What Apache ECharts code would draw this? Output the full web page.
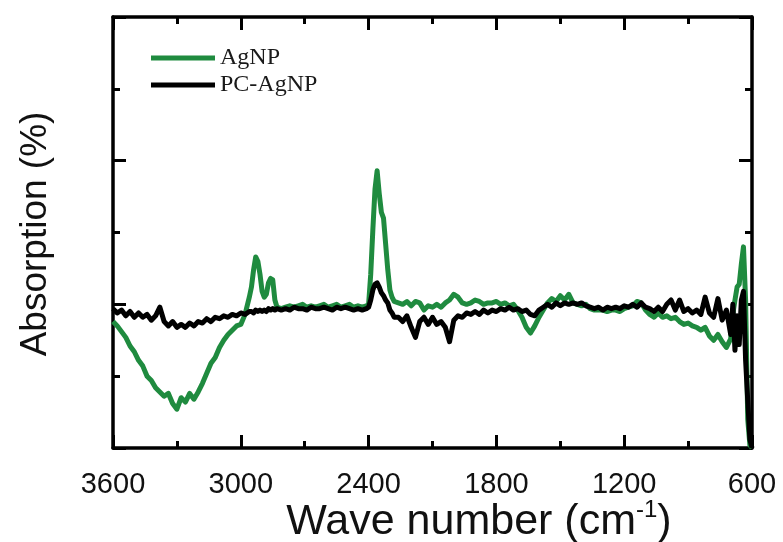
<!DOCTYPE html>
<html>
<head>
<meta charset="utf-8">
<script src="https://cdn.jsdelivr.net/npm/echarts@6/dist/echarts.min.js"></script>
<style>
html,body{margin:0;padding:0;background:#fff;}
#chart{width:783px;height:542px;}
</style>
</head>
<body>
<div id="chart"></div>
<script>
// Wave numbers (cm^-1), shared by both spectra
var wavenumbers = [
  3600,3580,3560,3540,3520,3500,3480,3460,3440,3420,3400,3380,3360,3340,3320,3300,3280,3260,3240,3220,3200,3180,3160,3140,3120,3100,3080,3060,3040,3020,3000,2980,2960,
  2950,2940,2930,2920,2910,2900,2890,2880,2870,2860,2850,2840,2830,
  2810,2790,2770,2750,2730,2710,2690,2670,2650,2630,2610,2590,2570,2550,2530,2510,2490,2470,2450,2430,2410,
  2400,2390,2380,2370,2360,2350,2340,2330,2320,2310,2300,2290,2280,
  2260,2240,2220,2200,2180,2160,2140,2120,2100,2080,2060,2040,2020,2000,1980,1960,1940,1920,1900,1880,
  1860,1840,1820,1800,1780,1760,1740,1720,1700,1680,1660,1640,1620,1600,1580,1560,1540,1520,1500,1480,
  1460,1440,1420,1400,1380,1360,1340,1320,1300,1280,1260,1240,1220,1200,1180,1160,1140,1120,1100,1080,
  1060,1040,1020,1000,980,960,940,920,900,880,860,840,820,800,780,760,740,720,700,
  690,680,670,660,650,640,630,620,610,600
];

// AgNP absorption (arbitrary units)
var agnp = [
  0.88,0.85,0.81,0.77,0.71,0.67,0.61,0.57,0.50,0.47,0.42,0.39,0.36,0.38,0.31,0.27,0.35,0.32,0.38,0.34,0.39,0.45,0.52,0.59,0.63,0.70,0.75,0.79,0.82,0.85,0.86,0.93,1.05,
  1.12,1.24,1.33,1.30,1.21,1.09,1.05,1.07,1.15,1.18,1.17,1.03,0.98,
  0.97,0.98,0.99,0.98,0.99,1.00,0.98,0.99,0.98,0.99,1.00,0.98,0.99,1.00,0.98,0.99,1.00,0.98,0.99,0.98,0.99,
  1.00,1.21,1.52,1.80,1.93,1.77,1.64,1.60,1.42,1.24,1.10,1.05,1.02,
  1.01,1.00,1.02,0.99,1.02,1.01,0.96,0.99,0.98,1.00,0.98,1.01,1.03,1.07,1.05,1.01,1.00,1.01,1.03,1.02,
  1.00,1.01,1.01,1.02,1.00,1.01,0.99,1.00,0.96,0.91,0.84,0.80,0.85,0.91,0.96,1.01,1.04,1.02,1.06,1.03,
  1.07,1.01,1.00,0.99,1.00,0.97,0.96,0.96,0.96,0.95,0.96,0.96,0.95,0.97,0.98,0.99,1.02,1.01,0.96,0.93,
  0.91,0.94,0.91,0.92,0.90,0.91,0.88,0.86,0.87,0.85,0.84,0.82,0.84,0.78,0.75,0.79,0.74,0.70,0.76,
  0.93,1.03,1.12,1.14,1.28,1.40,1.03,0.20,0.02,0.00
];

// PC-AgNP absorption (arbitrary units)
var pcAgnp = [
  0.97,0.94,0.96,0.92,0.95,0.91,0.94,0.91,0.93,0.89,0.92,0.98,0.88,0.85,0.88,0.84,0.86,0.84,0.87,0.85,0.88,0.87,0.90,0.88,0.91,0.90,0.92,0.91,0.93,0.92,0.94,0.93,0.95,
  0.95,0.94,0.96,0.95,0.96,0.95,0.96,0.95,0.97,0.96,0.97,0.96,0.97,
  0.96,0.97,0.96,0.98,0.97,0.97,0.96,0.98,0.97,0.97,0.98,0.97,0.96,0.98,0.97,0.98,0.97,0.96,0.97,0.96,0.97,
  0.98,1.03,1.10,1.14,1.15,1.12,1.08,1.06,1.03,1.01,0.96,0.94,0.91,
  0.91,0.88,0.92,0.84,0.77,0.88,0.91,0.86,0.91,0.86,0.88,0.84,0.74,0.89,0.92,0.91,0.94,0.93,0.95,0.93,
  0.96,0.94,0.96,0.95,0.97,0.96,0.98,0.96,0.97,0.95,0.96,0.93,0.92,0.96,0.98,1.00,0.98,1.01,0.99,1.01,
  1.00,1.01,1.00,1.01,0.99,0.98,0.97,0.98,0.96,0.98,0.97,0.98,0.97,0.99,0.98,1.00,0.98,1.01,0.98,0.97,
  0.95,0.98,0.95,1.00,1.03,0.96,1.03,0.95,0.97,0.94,0.96,0.93,1.05,0.94,0.91,1.04,0.89,0.96,0.79,
  1.00,0.68,0.92,0.72,1.03,1.09,0.61,0.33,0.06,0.00
];

var xTickMin = 600, xTickMax = 3600, xTickStep = 600;
var yMin = 0, yMax = 3, yStep = 1;
var seriesNames = ['AgNP', 'PC-AgNP'];

function pairs(ys) {
  return wavenumbers.map(function (w, i) { return [w, ys[i]]; });
}

var chart = echarts.init(document.getElementById('chart'), null, {renderer: 'canvas'});

var axisLineStyle = {color: '#000', width: 3.5};
function xAx(pos, showLabel) {
  return {
    type: 'value', position: pos, min: xTickMin, max: xTickMax, interval: xTickStep, inverse: true,
    axisLine: {show: true, onZero: false, lineStyle: axisLineStyle},
    axisTick: {show: true, inside: true, length: 13, lineStyle: {color: '#000', width: 3}},
    minorTick: {show: true, splitNumber: 2, length: 7, lineStyle: {color: '#000', width: 3}},
    splitLine: {show: false}, minorSplitLine: {show: false},
    axisLabel: {show: showLabel, showMinLabel: true, showMaxLabel: true, fontFamily: 'Liberation Sans', fontSize: 29, color: '#111', margin: 22,
      formatter: function (v) { return String(v); }}
  };
}
function yAx(pos) {
  return {
    type: 'value', position: pos, min: yMin, max: yMax, interval: yStep,
    axisLine: {show: true, onZero: false, lineStyle: axisLineStyle},
    axisTick: {show: true, inside: true, length: 13, lineStyle: {color: '#000', width: 3}},
    minorTick: {show: true, splitNumber: 2, length: 7, lineStyle: {color: '#000', width: 3}},
    splitLine: {show: false}, minorSplitLine: {show: false},
    axisLabel: {show: false}
  };
}

chart.setOption({
  animation: false,
  backgroundColor: '#fff',
  grid: {left: 113, right: 31, top: 17, bottom: 94, containLabel: false},
  xAxis: [xAx('bottom', true), xAx('top', false)],
  yAxis: [yAx('left'), yAx('right')],
  legend: {
    data: [{name: seriesNames[0], icon: 'rect'}, {name: seriesNames[1], icon: 'rect'}],
    orient: 'vertical', left: 146, top: 41,
    itemWidth: 64, itemHeight: 5, itemGap: 3,
    textStyle: {fontFamily: 'Liberation Serif', fontSize: 24, color: '#1a1a1a', lineHeight: 24}
  },
  graphic: [
    {type: 'text', x: 479, y: 522, style: {
      text: 'Wave number (cm{sup|-1})', fontFamily: 'Liberation Sans', fontSize: 43, fill: '#111',
      align: 'center', verticalAlign: 'middle',
      rich: {sup: {fontFamily: 'Liberation Sans', fontSize: 24, fill: '#111', padding: [0, 0, 24, 0]}}
    }},
    {type: 'text', x: 36, y: 234, rotation: Math.PI / 2, style: {
      text: 'Absorption (%)', fontFamily: 'Liberation Sans', fontSize: 37, fill: '#111',
      align: 'center', verticalAlign: 'middle'
    }}
  ],
  series: [
    {name: seriesNames[0], type: 'line', xAxisIndex: 0, yAxisIndex: 0, data: pairs(agnp), symbol: 'none',
      lineStyle: {color: '#1f8b3f', width: 5, join: 'round'}, itemStyle: {color: '#1f8b3f'}, z: 2},
    {name: seriesNames[1], type: 'line', xAxisIndex: 0, yAxisIndex: 0, data: pairs(pcAgnp), symbol: 'none',
      lineStyle: {color: '#000', width: 5, join: 'round'}, itemStyle: {color: '#000'}, z: 3}
  ]
});
</script>
</body>
</html>
